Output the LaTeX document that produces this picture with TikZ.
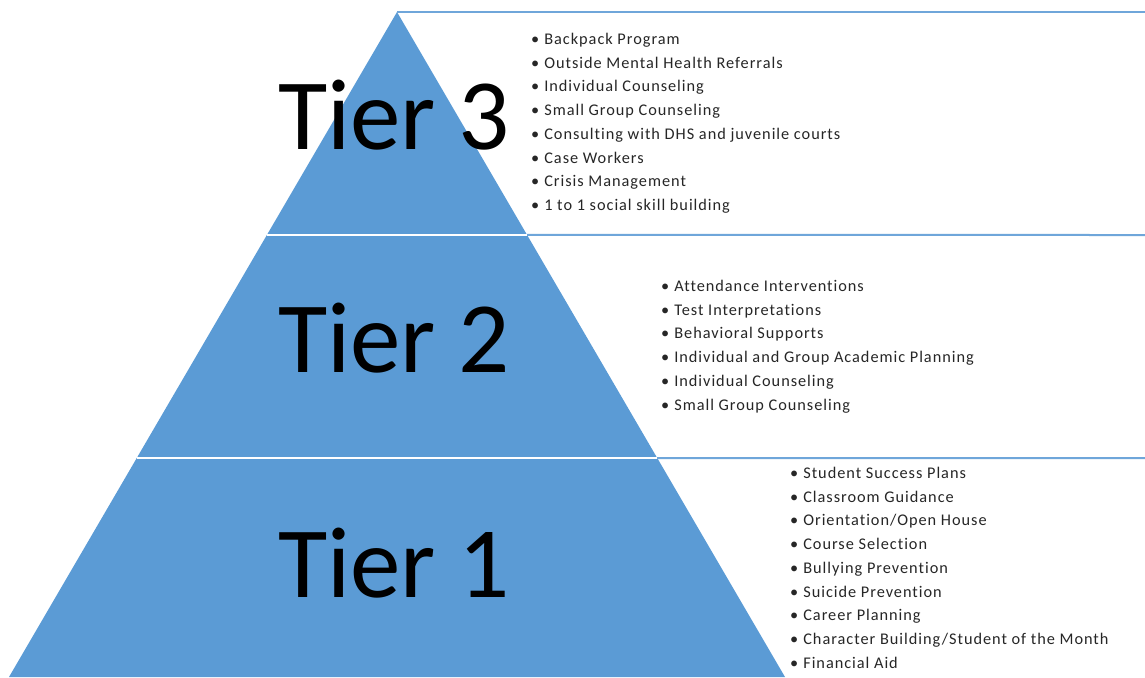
\documentclass[tikz,border=0pt]{standalone}
\usepackage{fontspec}
\setmainfont{Carlito}
\newfontfamily\listfont[LetterSpace=6, Ligatures=NoCommon]{Carlito}
\usepackage{xcolor}
\usetikzlibrary{calc, positioning}
\definecolor{tierblue}{HTML}{5B9BD5}
\definecolor{ruleblue}{HTML}{6FA6DA}
\tikzset{
    tierlabel/.style={font=\fontsize{101}{101}\selectfont, text=black, inner sep=0pt},
    itemlist/.style={align=left, font=\listfont\fontsize{16.3}{23.7}\selectfont, text=black!85, inner sep=0pt, anchor=north west},
    rule/.style={draw=ruleblue, line width=2pt},
    gap/.style={draw=white, line width=2pt}
}
\newcommand{\itm}[1]{\textbullet\hspace{5pt}#1}

\begin{document}
\begin{tikzpicture}[x=1pt, y=-1pt]
    \useasboundingbox (0,0) rectangle (1145,677);
    \coordinate (apex) at (397,12);
    \coordinate (bl) at (9,677);
    \coordinate (br) at (785,677);

    % pyramid
    \fill[tierblue] (apex) -- (br) -- (bl) -- cycle;

    % tier boundaries
    \coordinate (l2) at ($(apex)!0.3353!(bl)$);
    \coordinate (r2) at ($(apex)!0.3353!(br)$);
    \coordinate (l1) at ($(apex)!0.6707!(bl)$);
    \coordinate (r1) at ($(apex)!0.6707!(br)$);
    \coordinate (e3) at (1145,12);
    \coordinate (e2) at (1145,235);
    \coordinate (e1) at (1145,458);
    \draw[gap] (l2) -- (r2);
    \draw[gap] (l1) -- (r1);
    \draw[rule] (apex) -- (e3);
    \draw[rule] (r2) -- (e2);
    \draw[rule] (r1) -- (e1);

    % tier names
    \node[tierlabel] (tier3) at (394,115) {Tier 3};
    \node[tierlabel] (tier2) at (394,338) {Tier 2};
    \node[tierlabel] (tier1) at (394,563) {Tier 1};

    % services per tier
    \node[itemlist] (list3) at (531,33) {\itm{Backpack Program}\\
        \itm{Outside Mental Health Referrals}\\
        \itm{Individual Counseling}\\
        \itm{Small Group Counseling}\\
        \itm{Consulting with DHS and juvenile courts}\\
        \itm{Case Workers}\\
        \itm{Crisis Management}\\
        \itm{1 to 1 social skill building}};
    \node[itemlist] (list2) at (661,280) {\itm{Attendance Interventions}\\
        \itm{Test Interpretations}\\
        \itm{Behavioral Supports}\\
        \itm{Individual and Group Academic Planning}\\
        \itm{Individual Counseling}\\
        \itm{Small Group Counseling}};
    \node[itemlist] (list1) at (790,467) {\itm{Student Success Plans}\\
        \itm{Classroom Guidance}\\
        \itm{Orientation/Open House}\\
        \itm{Course Selection}\\
        \itm{Bullying Prevention}\\
        \itm{Suicide Prevention}\\
        \itm{Career Planning}\\
        \itm{Character Building/Student of the Month}\\
        \itm{Financial Aid}};
\end{tikzpicture}
\end{document}
